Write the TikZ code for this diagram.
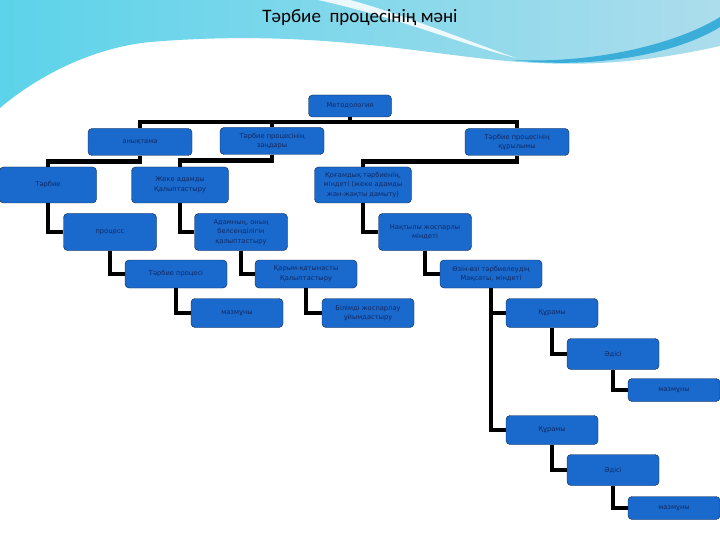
\documentclass[tikz,border=0pt]{standalone}
\usepackage{fontspec}
\setmainfont{DejaVu Sans}
\newfontfamily\titlefont{Carlito}
\usetikzlibrary{positioning}
\definecolor{boxblue}{HTML}{1A69CC}
\definecolor{boxedge}{HTML}{0D2347}
\definecolor{boxtext}{HTML}{112A63}
\definecolor{waveleft}{HTML}{5CD3EA}
\definecolor{wavemid}{HTML}{8FC3DC}
\definecolor{waveright}{HTML}{ACDDEC}
\definecolor{wavedark}{HTML}{3AAED8}

\begin{document}
\begin{tikzpicture}[
    x=1pt, y=-1pt,
    box/.style={
        draw=boxedge,
        fill=boxblue,
        rounded corners=4pt,
        inner sep=1pt,
        align=center,
        text=boxtext,
        font=\fontsize{6.7}{9.5}\selectfont
    },
    lvlone/.style={box, minimum width=104pt, minimum height=27pt},
    lvltwo/.style={box, minimum width=97pt, minimum height=36pt},
    lvlthree/.style={box, minimum width=93pt, minimum height=37pt},
    lvlfour/.style={box, minimum width=102pt, minimum height=28pt},
    lvlfive/.style={box, minimum width=92pt, minimum height=29pt},
    lvlsix/.style={box, minimum width=92pt, minimum height=31pt},
    lvlseven/.style={box, minimum width=92pt, minimum height=23pt},
    conn/.style={
        line width=4.5pt,
        black
    }
]
\useasboundingbox (0,0) rectangle (720,540);
\fill[white] (0,0) rectangle (720,540);

% Background wave
\shade[left color=waveleft, middle color=wavemid, right color=waveright]
(0,0) -- (720,0) -- (720,46)
.. controls (640,64) and (580,66) .. (520,62)
.. controls (430,56) and (320,28) .. (150,42)
.. controls (90,48) and (35,78) .. (0,108) -- cycle;
\fill[white, opacity=0.85]
(318,0) .. controls (400,18) and (460,44) .. (516,58)
.. controls (455,36) and (395,12) .. (350,0) -- cycle;
\fill[wavedark]
(512,60) .. controls (600,64) and (680,42) .. (720,17)
-- (720,27) .. controls (680,52) and (600,70) .. (512,60) -- cycle;

% Title
\node (title) at (360,18) {\titlefont\fontsize{19}{22}\selectfont Тәрбие\ \ процесінің мәні};

% Top row
\node[box, minimum width=83pt, minimum height=22pt] (meth) at (350,106) {Методология};
\node[lvlone] (def) at (140,142) {анықтама};
\node[lvlone] (laws) at (272,141) {Тәрбие процесінің\\заңдары};
\node[lvlone] (struct) at (517,142) {Тәрбие процесінің\\құрылымы};

% Second row
\node[lvltwo] (upbr) at (48,185) {Тәрбие};
\node[lvltwo] (person) at (180,185) {Жеке адамды\\Қалыптастыру};
\node[lvltwo] (social) at (363,185) {Қоғамдық тәрбиенің,\\міндеті (жеке адамды\\жан-жақты дамыту)};

% Third row
\node[lvlthree] (proc) at (110,232) {процесс};
\node[lvlthree] (activity) at (241,232) {Адамның, оның\\белсенділігін\\қалыптастыру};
\node[lvlthree] (task) at (425,232) {Нақтылы жоспарлы\\міндеті};

% Fourth row
\node[lvlfour] (eduproc) at (176,274) {Тәрбие процесі};
\node[lvlfour] (relation) at (306,274) {Қарым-қатынасты\\Қалыптастыру};
\node[lvlfour] (selfedu) at (491,274) {Өзін-өзі тәрбиелеудің\\Мақсаты, міндеті};

% Fifth row
\node[lvlfive] (content) at (237,313) {мазмұны};
\node[lvlfive] (knowledge) at (368,313) {Білімді жоспарлау\\ұйымдастыру};
\node[lvlfive] (compA) at (552,313) {Құрамы};
\node[lvlfive] (compB) at (552,430) {Құрамы};

% Right staircase
\node[lvlsix] (methodA) at (613,354) {Әдісі};
\node[lvlseven] (contentA) at (674,390) {мазмұны};
\node[lvlsix] (methodB) at (613,470) {Әдісі};
\node[lvlseven] (contentB) at (674,508) {мазмұны};

% Connections
\draw[conn] (meth.south) -- ++(0,5) -| (def.north);
\draw[conn] (meth.south) -- ++(0,5) -| (laws.north);
\draw[conn] (meth.south) -- ++(0,5) -| (struct.north);

\draw[conn] (def.south) -- ++(0,6) -| (upbr.north);
\draw[conn] (laws.south) -- ++(0,6) -| (person.north);
\draw[conn] (struct.south) -- ++(0,6) -| (social.north);

\draw[conn] (upbr.south) |- (proc.west);
\draw[conn] (person.south) |- (activity.west);
\draw[conn] (social.south) |- (task.west);

\draw[conn] (proc.south) |- (eduproc.west);
\draw[conn] (activity.south) |- (relation.west);
\draw[conn] (task.south) |- (selfedu.west);

\draw[conn] (eduproc.south) |- (content.west);
\draw[conn] (relation.south) |- (knowledge.west);
\draw[conn] (selfedu.south) |- (compA.west);
\draw[conn] (selfedu.south) |- (compB.west);

\draw[conn] (compA.south) |- (methodA.west);
\draw[conn] (methodA.south) |- (contentA.west);
\draw[conn] (compB.south) |- (methodB.west);
\draw[conn] (methodB.south) |- (contentB.west);

\end{tikzpicture}
\end{document}
